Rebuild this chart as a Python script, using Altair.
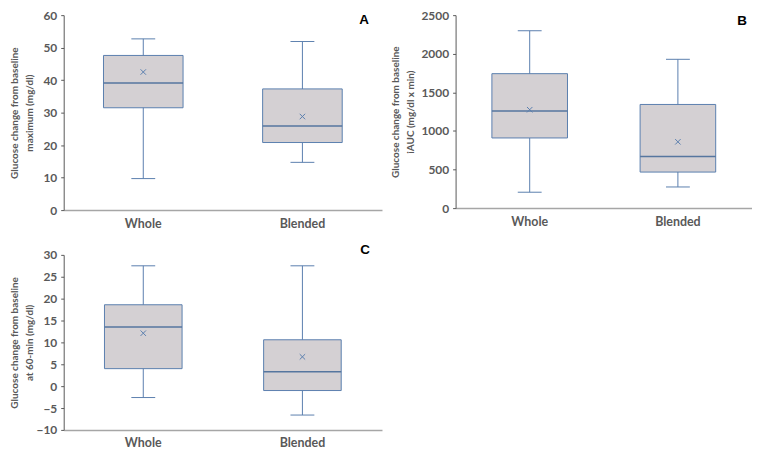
import altair as alt
import pandas as pd

groups = ["Whole", "Blended"]

# Panel A: maximum glucose change (mg/dl)
a_min = [9.7, 14.7]
a_q1 = [31.5, 20.8]
a_median = [39.1, 25.9]
a_q3 = [47.6, 37.3]
a_max = [52.7, 51.9]
a_mean = [42.5, 28.8]

# Panel B: iAUC (mg/dl x min)
b_min = [206, 274]
b_q1 = [909, 467]
b_median = [1258, 669]
b_q3 = [1742, 1343]
b_max = [2298, 1928]
b_mean = [1275, 859]

# Panel C: change at 60-min (mg/dl)
c_min = [-2.6, -6.6]
c_q1 = [4.0, -1.0]
c_median = [13.5, 3.3]
c_q3 = [18.6, 10.6]
c_max = [27.5, 27.5]
c_mean = [12.1, 6.7]

STROKE = "#5b7fae"
FILL = "#d4d0d3"
FONT = "Lato"
TXT = "#595959"


def panel(mn, q1, med, q3, mx, mean, ymin, ymax, step, title, letter,
          w, h, boxw, title_x, let_x, let_y):
    df = pd.DataFrame({"group": groups, "min": mn, "q1": q1, "median": med,
                       "q3": q3, "max": mx, "mean": mean})
    yscale = alt.Scale(domain=[ymin, ymax], nice=False, zero=False)
    yaxis = alt.Axis(values=list(range(ymin, ymax + 1, step)), grid=False,
                     format="d", labelOverlap=False,
                     domainColor=TXT, tickColor=TXT, tickSize=3,
                     labelFont=FONT, labelFontWeight="bold", labelFontSize=12,
                     labelColor=TXT, labelPadding=4,
                     title=title, titleFont=FONT, titleFontWeight="bold",
                     titleFontSize=10, titleColor=TXT,
                     titleLineHeight=15, titleX=title_x, titleY=h / 2,
                     titleBaseline="bottom", titleAlign="center")

    def Y(field):
        return alt.Y(field, scale=yscale, axis=yaxis)

    xaxis = alt.Axis(title=None, labelAngle=0, ticks=False, domainColor="#a6a6a6",
                     domainWidth=1.5, labelFont=FONT, labelFontWeight="bold",
                     labelFontSize=12.5, labelColor=TXT, labelPadding=7)
    base = alt.Chart(df).encode(
        x=alt.X("group:N", sort=groups,
                scale=alt.Scale(paddingInner=0, paddingOuter=0), axis=xaxis)
    )
    whisker = base.mark_rule(color=STROKE, strokeWidth=1).encode(
        y=Y("min:Q"), y2="max:Q")
    box = base.mark_bar(size=boxw, fill=FILL, stroke=STROKE, strokeWidth=1).encode(
        y=Y("q1:Q"), y2="q3:Q")
    cap_lo = base.mark_tick(size=24, thickness=1, color=STROKE, opacity=1).encode(y=Y("min:Q"))
    cap_hi = base.mark_tick(size=24, thickness=1, color=STROKE, opacity=1).encode(y=Y("max:Q"))
    median = base.mark_tick(size=boxw, thickness=1.5, color="#56769f", opacity=1).encode(y=Y("median:Q"))
    meanpt = base.mark_point(shape="M-1,-1L1,1M-1,1L1,-1", size=30, filled=False,
                             stroke=STROKE, strokeWidth=1, opacity=1).encode(y=Y("mean:Q"))
    lab = alt.Chart(pd.DataFrame({"t": [letter]})).mark_text(
        font="Liberation Sans", fontWeight="bold", fontSize=13.5, color="#000000",
        align="center", baseline="middle"
    ).encode(x=alt.value(let_x), y=alt.value(let_y), text="t:N")
    return alt.layer(whisker, box, cap_lo, cap_hi, median, meanpt, lab).properties(
        width=w, height=h)


A = panel(a_min, a_q1, a_median, a_q3, a_max, a_mean, 0, 60, 10,
          ["Glucose change from baseline", "maximum (mg/dl)"], "A",
          320, 196, 80, -44, 302, 5)
B = panel(b_min, b_q1, b_median, b_q3, b_max, b_mean, 0, 2500, 500,
          ["Glucose change from baseline", "iAUC (mg/dl x min)"], "B",
          298, 194, 76, -55, 288, 6)
C = panel(c_min, c_q1, c_median, c_q3, c_max, c_mean, -10, 30, 5,
          ["Glucose change from baseline", "at 60-min (mg/dl)"], "C",
          320, 176, 78, -44, 303, -5)

chart = alt.vconcat(
    alt.hconcat(A, B, spacing=8),
    C,
    spacing=13,
).configure(padding={"left": 2, "top": 0, "right": 0, "bottom": 0}).configure_view(
    stroke=None
)

chart.save("out.html", embed_options={"renderer": "svg", "actions": False})
